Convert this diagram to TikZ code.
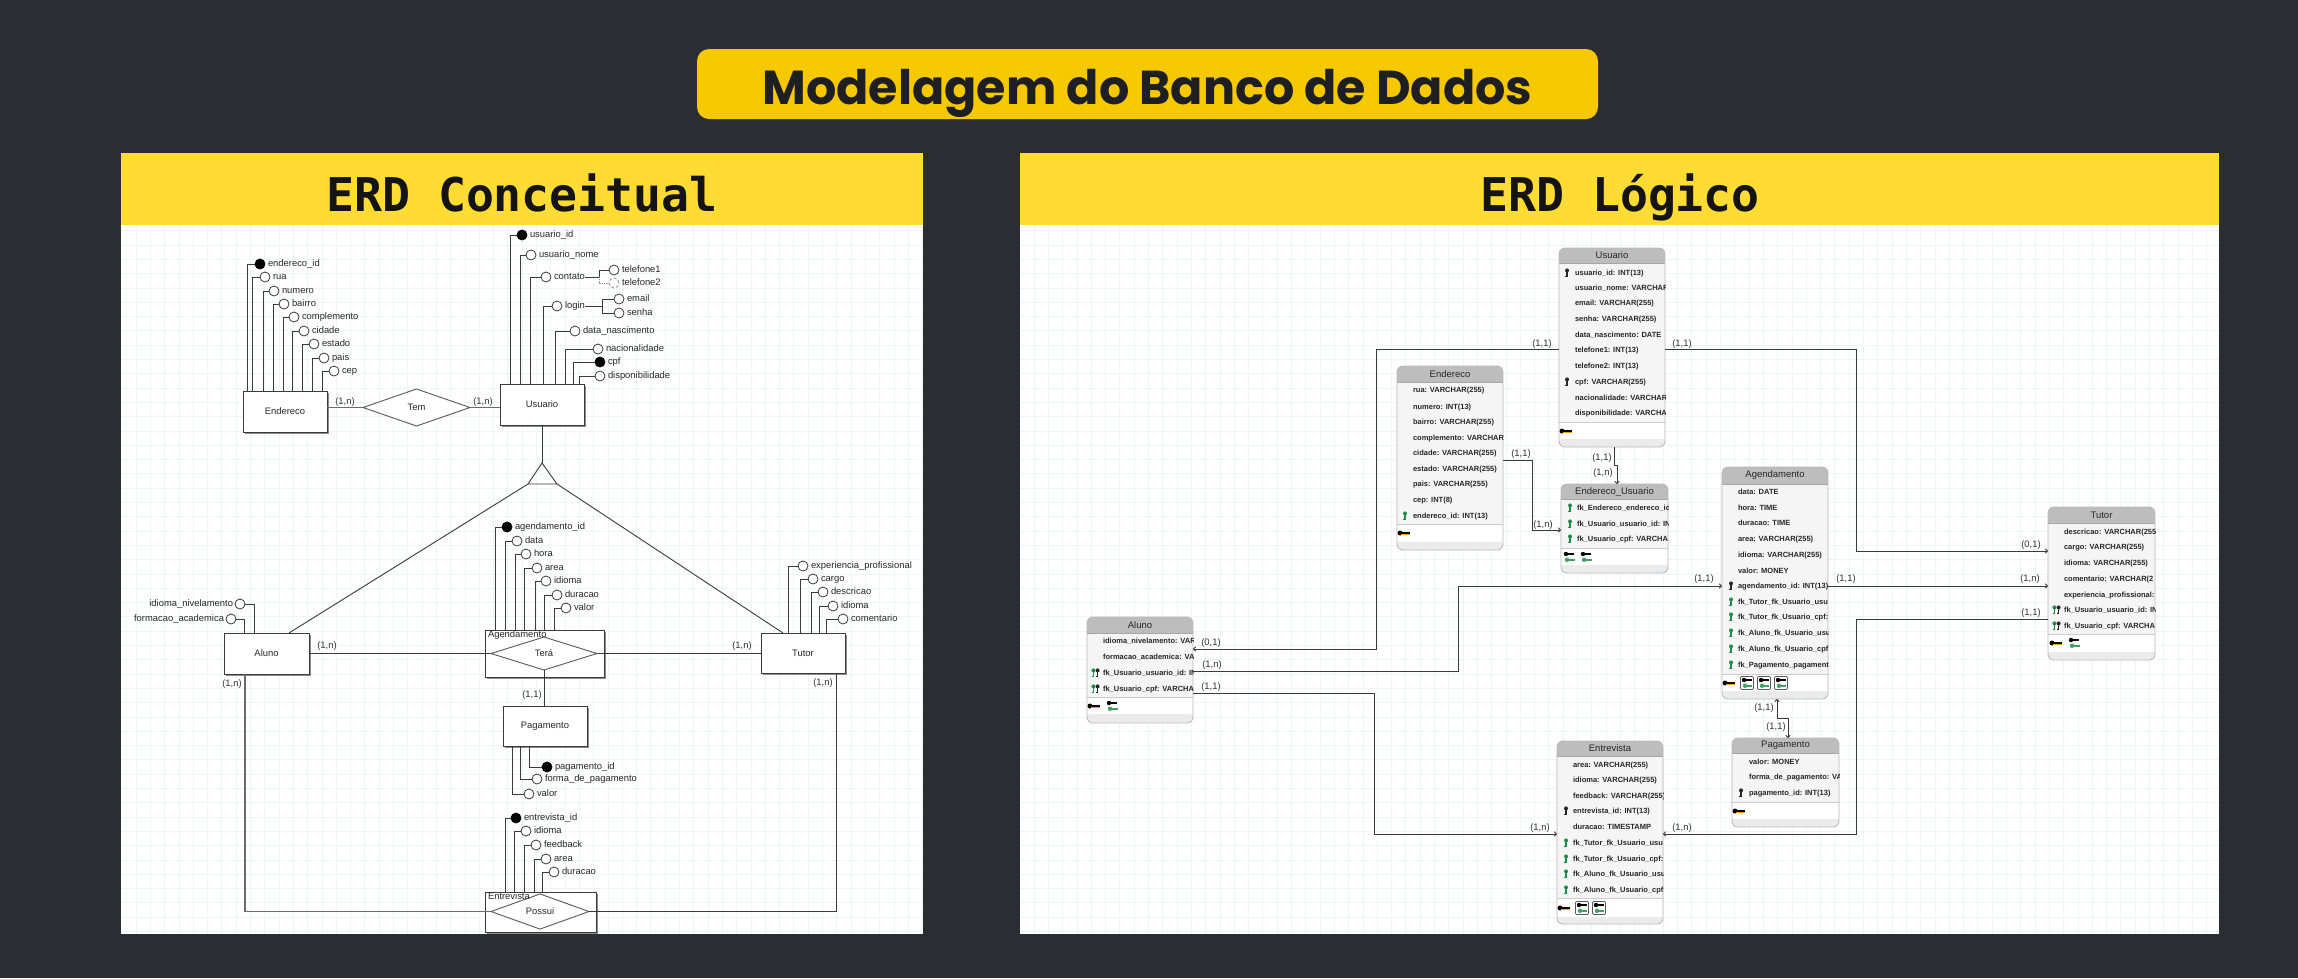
\documentclass[tikz,border=0pt]{standalone}
\usepackage{fontspec}
\setmainfont{Liberation Sans}
\newfontfamily\titlef{Poppins}
\newfontfamily\monof{DejaVu Sans Mono}
\usetikzlibrary{shapes.geometric,arrows.meta}
\definecolor{pagebg}{HTML}{2B2D33}
\definecolor{titleyl}{HTML}{F5C800}
\definecolor{bandyl}{HTML}{FFDC33}
\definecolor{titleink}{HTML}{1E1F23}
\definecolor{gridc}{HTML}{F1F4F6}
\definecolor{lnc}{HTML}{3A3A3A}
\definecolor{thd}{HTML}{BDBDBD}
\definecolor{tbd}{HTML}{F5F5F5}
\definecolor{tsh}{HTML}{EBEBEB}
\definecolor{fkg}{HTML}{1E8E46}
\definecolor{gold}{HTML}{E8A800}
\newcommand\erfont{\fontsize{9.4}{11}\selectfont}
\newcommand\cellfont{\fontsize{7.5}{9}\selectfont\bfseries}
\tikzset{
  ln/.style={draw=lnc,line width=.9pt},
  lnthick/.style={draw=lnc!75,line width=1.3pt},
  conn/.style={draw=lnc,line width=.9pt},
  connarr/.style={conn,-{To[length=3pt,width=5pt]}},
  circ/.style={circle,draw=lnc,fill=white,line width=.8pt,minimum size=10pt,inner sep=0pt,outer sep=0pt},
  circk/.style={circ,fill=black,draw=black},
  circd/.style={circ,draw=lnc!60,densely dashed},
  lab/.style={inner sep=0pt,outer sep=0pt,text height=6.6pt,text depth=2pt,font=\erfont,text=black!85},
  enti/.style={draw=lnc,fill=white,line width=.9pt,inner sep=0pt,outer sep=0pt,font=\erfont,text=black!85},
  diam/.style={diamond,draw=lnc!85,fill=white,line width=.9pt,inner sep=0pt,outer sep=0pt,font=\erfont,text=black!85},
  cardl/.style={inner sep=0pt,outer sep=0pt,font=\erfont,text=black!80},
  tblframe/.style={draw=black!28,line width=.8pt,rounded corners=6pt,inner sep=0pt,outer sep=0pt},
  cellt/.style={anchor=west,inner sep=0pt,outer sep=0pt,font=\cellfont,text=black!85,text height=5.6pt,text depth=1.6pt},
  thdt/.style={inner sep=0pt,outer sep=0pt,font=\fontsize{9.5}{11}\selectfont,text=black!85},
}
% entity rectangle with a hard shadow
\newcommand\entity[6]{%
  \fill[black!45] (#2+2,#3+2) rectangle (#4+2,#5+2);
  \pgfmathsetmacro\ww{#4-#2}\pgfmathsetmacro\hh{#5-#3}%
  \pgfmathsetmacro\cxx{(#2+#4)/2}\pgfmathsetmacro\cyy{(#3+#5)/2}%
  \node[enti,minimum width=\ww pt,minimum height=\hh pt] (#1) at (\cxx,\cyy) {#6};
}
% attribute to the right: [circle style]{id}{entity anchor}{cx}{cy}{line x}{label}
\newcommand\attr[7][circ]{%
  \node[#1] (#2) at (#4,#5) {};
  \node[lab,anchor=west] (#2-l) at ([xshift=3pt]#2.east) {#7};
  \draw[ln] (#2.west) -| (#6,0 |- #3);
}
\newcommand\card[3]{\node[cardl] (c#1) at #2 {#3};}
% logical table
\newcommand\tbl[9]{%
  \pgfmathsetmacro\ww{#4-#2}\pgfmathsetmacro\hh{#5-#3}%
  \pgfmathsetmacro\cxx{(#2+#4)/2}\pgfmathsetmacro\cyy{(#3+#5)/2}\pgfmathsetmacro\hyy{(#3+#6)/2}%
  \begin{scope}
    \clip[rounded corners=6pt] (#2,#3) rectangle (#4,#5);
    \fill[tbd] (#2,#3) rectangle (#4,#5);
    \fill[thd] (#2,#3) rectangle (#4,#6);
    \fill[white] (#2,#7) rectangle (#4,#8);
    \fill[tsh] (#2,#8) rectangle (#4,#5);
    \draw[black!20,line width=1pt] (#2,#7) -- (#4,#7);
    \draw[black!35,line width=.8pt] (#2,#6) -- (#4,#6);
  \end{scope}
  \node[tblframe,minimum width=\ww pt,minimum height=\hh pt] (#1) at (\cxx,\cyy) {};
  \node[thdt] (#1-title) at (\cxx,\hyy) {#9};
}
\newcommand\tblrows[3]{%
  \begin{scope}
    \clip[rounded corners=6pt] (#1.south west) rectangle (#1.north east);
    \foreach \yy/\ttx in {#3} {\node[cellt] at (#2,\yy) {\ttx};}
  \end{scope}
}
% key icons
\newcommand\vkey[3]{\fill[#3] (#1,#2-2.6) circle (2pt); \fill[#3] (#1-.8,#2-2.6) rectangle (#1+.8,#2+4);\fill[#3] (#1-1.6,#2+2.6) rectangle (#1+.8,#2+3.4);}
\newcommand\vkk[2]{\vkey{#1-2.6}{#2}{fkg}\vkey{#1+1.6}{#2}{black!85}}
\newcommand\fkey[2]{\fill[black] (#1-4,#2) circle (2.5pt);\fill[black] (#1-4,#2-.9) rectangle (#1+6,#2+.7);\fill[gold] (#1-3,#2+.7) rectangle (#1+6,#2+1.6);}
\newcommand\fcomb[2]{%
  \fill[white] (#1-7,#2-7) rectangle (#1+8,#2+8);
  \fill[black] (#1-3,#2-3) circle (2.2pt);\fill[black] (#1-3,#2-3.7) rectangle (#1+5,#2-2.3);
  \fill[fkg!85] (#1-2,#2+2.8) circle (2.2pt);\fill[fkg!85] (#1-2,#2+2.1) rectangle (#1+6,#2+3.5);}
\newcommand\fboxk[2]{%
  \fill[white] (#1-6.5,#2-6.5) rectangle (#1+6.5,#2+6.5);
  \fill[black] (#1-3,#2-3) circle (2.2pt);\fill[black] (#1-3,#2-3.7) rectangle (#1+5,#2-2.3);
  \fill[fkg!85] (#1-2,#2+2.8) circle (2.2pt);\fill[fkg!85] (#1-2,#2+2.1) rectangle (#1+5,#2+3.5);
  \draw[black!65,line width=.7pt,rounded corners=1.2pt] (#1-6.5,#2-6.5) rectangle (#1+6.5,#2+6.5);}
\begin{document}
\begin{tikzpicture}[x=1pt,y=-1pt]
\useasboundingbox (0,0) rectangle (2298,978);
\fill[pagebg] (0,0) rectangle (2298,978);
% title
\node[fill=titleyl,rounded corners=12pt,minimum width=901pt,minimum height=70pt,inner sep=0pt,outer sep=0pt] (mainBox) at (1147.5,84) {};
\node[anchor=base,inner sep=0pt,outer sep=0pt,text=titleink,font=\titlef\bfseries\fontsize{47.6}{54}\selectfont] (mainTitle) at (1147.5,104) {Modelagem do Banco de Dados};
% panels
\fill[white] (121,153) rectangle (923,934);
\fill[white] (1020,153) rectangle (2219,934);
\begin{scope}
  \clip (121,225) rectangle (923,934);
  \foreach \x in {136,150.3,...,923} \draw[gridc,line width=.8pt] (\x,225) -- (\x,934);
  \foreach \y in {230.7,245,...,934} \draw[gridc,line width=.8pt] (121,\y) -- (923,\y);
\end{scope}
\begin{scope}
  \clip (1020,225) rectangle (2219,934);
  \foreach \x in {1034,1048.3,...,2219} \draw[gridc,line width=.8pt] (\x,225) -- (\x,934);
  \foreach \y in {230.7,245,...,934} \draw[gridc,line width=.8pt] (1020,\y) -- (2219,\y);
\end{scope}
\fill[bandyl] (121,153) rectangle (923,225);
\fill[bandyl] (1020,153) rectangle (2219,225);
\node[anchor=base,inner sep=0pt,font=\monof\bfseries\fontsize{46.5}{52}\selectfont,text=black!92] (hConc) at (522,211) {ERD Conceitual};
\node[anchor=base,inner sep=0pt,font=\monof\bfseries\fontsize{46.5}{52}\selectfont,text=black!92] (hLog) at (1620,211) {ERD Lógico};

% ---------- conceptual ----------
\entity{eEnd}{243}{391}{327}{432}{Endereco}
\entity{eUsu}{500}{384}{584}{425}{Usuario}
\entity{eAlu}{224}{633}{309}{674}{Aluno}
\entity{eTut}{761}{633}{845}{673}{Tutor}
\entity{eAge}{485}{630}{604}{677}{}
\entity{ePag}{503}{706}{587}{746}{Pagamento}
\entity{eEnt}{485}{892}{596}{932}{}

\node[diam,minimum width=107pt,minimum height=37pt] (dTem) at (416.5,407.5) {Tem};
\node[diam,minimum width=106pt,minimum height=33pt] (dTer) at (544,653.5) {Terá};
\node[diam,minimum width=98pt,minimum height=29pt] (dPos) at (540,911.5) {Possui};
\node[lab,anchor=west] (lAge) at (488,635) {Agendamento};
\node[lab,anchor=west] (lEnt) at (488,897) {Entrevista};

\coordinate (triA) at (542,463);
\coordinate (triL) at (528,484);
\coordinate (triR) at (557,484);
\draw[ln] (triA) -- (triL) -- (triR) -- cycle;
\draw[ln] (eUsu.south -| triA) -- (triA);
\draw[ln] (triL) -- (289,0 |- eAlu.north);
\draw[ln] (triR) -- (783,0 |- eTut.north);

\draw[lnthick,draw=lnc!75] (eEnd.east |- dTem.west) -- (dTem.west);
\draw[lnthick,draw=lnc!75] (dTem.east) -- (eUsu.west |- dTem.east);
\draw[ln] (eAlu.east |- dTer.west) -- (dTer.west);
\draw[ln] (dTer.east) -- (eTut.west |- dTer.east);
\draw[ln] (dTer.south) -- (ePag.north -| dTer.south);
\draw[lnthick] (245,0 |- eAlu.south) |- (dPos.west);
\draw[ln] (836,0 |- eTut.south) |- (dPos.east);

\card{a}{(345,402)}{(1,n)}
\card{b}{(483,402)}{(1,n)}
\card{c}{(327,646)}{(1,n)}
\card{d}{(232,684)}{(1,n)}
\card{e}{(742,646)}{(1,n)}
\card{f}{(532,695)}{(1,1)}
\card{g}{(823,683)}{(1,n)}

\attr[circk]{aE1}{eEnd.north}{260}{264}{247.5}{endereco\_id}
\attr{aE2}{eEnd.north}{265}{277}{252}{rua}
\attr{aE3}{eEnd.north}{274}{291}{263}{numero}
\attr{aE4}{eEnd.north}{284}{304}{273}{bairro}
\attr{aE5}{eEnd.north}{294}{317}{283}{complemento}
\attr{aE6}{eEnd.north}{304}{331}{292}{cidade}
\attr{aE7}{eEnd.north}{314}{344}{302}{estado}
\attr{aE8}{eEnd.north}{324}{358}{312}{pais}
\attr{aE9}{eEnd.north}{334}{371}{322}{cep}

\attr[circk]{aU1}{eUsu.north}{522}{235}{510}{usuario\_id}
\attr{aU2}{eUsu.north}{531}{255}{520}{usuario\_nome}
\attr{aU3}{eUsu.north}{546}{277}{530}{contato}
\attr{aU4}{eUsu.north}{557}{306}{543}{login}
\attr{aU5}{eUsu.north}{575}{331}{555}{data\_nascimento}
\attr{aU6}{eUsu.north}{598}{349}{565}{nacionalidade}
\attr[circk]{aU7}{eUsu.north}{600}{362}{573}{cpf}
\attr{aU8}{eUsu.north}{600}{376}{579}{disponibilidade}
\node[circ] (aT1) at (614,270) {};
\node[lab,anchor=west] (aT1-l) at ([xshift=3pt]aT1.east) {telefone1};
\node[circd] (aT2) at (614,283) {};
\node[lab,anchor=west] (aT2-l) at ([xshift=3pt]aT2.east) {telefone2};
\coordinate (jCon) at (599,277);
\draw[ln] (aU3-l.east) -- (jCon) |- (aT1.west);
\draw[draw=lnc!50,line width=.8pt,densely dotted] (jCon) |- (aT2.west);
\node[circ] (aL1) at (619,299) {};
\node[lab,anchor=west] (aL1-l) at ([xshift=3pt]aL1.east) {email};
\node[circ] (aL2) at (619,313) {};
\node[lab,anchor=west] (aL2-l) at ([xshift=3pt]aL2.east) {senha};
\coordinate (jLog) at (602,306);
\draw[ln] (aU4-l.east) -- (jLog) |- (aL1.west);
\draw[ln] (jLog) |- (aL2.west);

\node[circ] (aA1) at (240,604) {};
\node[lab,anchor=east] (aA1-l) at ([xshift=-2pt]aA1.west) {idioma\_nivelamento};
\node[circ] (aA2) at (231,619) {};
\node[lab,anchor=east] (aA2-l) at ([xshift=-2pt]aA2.west) {formacao\_academica};
\draw[ln] (aA1.east) -| (254,0 |- eAlu.north);
\draw[ln] (aA2.east) -| (244,0 |- eAlu.north);

\attr[circk]{aG1}{eAge.north}{507}{527}{495}{agendamento\_id}
\attr{aG2}{eAge.north}{517}{541}{505}{data}
\attr{aG3}{eAge.north}{526}{554}{515}{hora}
\attr{aG4}{eAge.north}{537}{568}{524}{area}
\attr{aG5}{eAge.north}{546}{581}{535}{idioma}
\attr{aG6}{eAge.north}{557}{595}{544}{duracao}
\attr{aG7}{eAge.north}{566}{608}{554}{valor}

\attr{aR1}{eTut.north}{803}{566}{788}{experiencia\_profissional}
\attr{aR2}{eTut.north}{813}{579}{800}{cargo}
\attr{aR3}{eTut.north}{823}{592}{811}{descricao}
\attr{aR4}{eTut.north}{833}{606}{819}{idioma}
\attr{aR5}{eTut.north}{843}{619}{826}{comentario}

\attr[circk]{aP1}{ePag.south}{547}{767}{529}{pagamento\_id}
\attr{aP2}{ePag.south}{537}{779}{520}{forma\_de\_pagamento}
\attr{aP3}{ePag.south}{529}{794}{512}{valor}

\attr[circk]{aV1}{eEnt.north}{516}{818}{505}{entrevista\_id}
\attr{aV2}{eEnt.north}{526}{831}{514}{idioma}
\attr{aV3}{eEnt.north}{536}{845}{524}{feedback}
\attr{aV4}{eEnt.north}{546}{859}{534}{area}
\attr{aV5}{eEnt.north}{554}{872}{542}{duracao}

% ---------- logical ----------
\tbl{tUsu}{1559}{248}{1665}{447}{263}{422}{439}{Usuario}
\tblrows{tUsu}{1575}{273/usuario\_id: INT(13),288/usuario\_nome: VARCHAR,303/email: VARCHAR(255),319/senha: VARCHAR(255),335/data\_nascimento: DATE,350/telefone1: INT(13),366/telefone2: INT(13),382/cpf: VARCHAR(255),398/nacionalidade: VARCHAR,413/disponibilidade: VARCHA}
\vkey{1567}{273}{black!85}\vkey{1567}{382}{black!85}\fkey{1566}{431}

\tbl{tEnd}{1397}{366}{1503}{550}{382}{524}{542}{Endereco}
\tblrows{tEnd}{1413}{390/rua: VARCHAR(255),407/numero: INT(13),422/bairro: VARCHAR(255),438/complemento: VARCHAR,453/cidade: VARCHAR(255),469/estado: VARCHAR(255),484/pais: VARCHAR(255),500/cep: INT(8),516/endereco\_id: INT(13)}
\vkey{1405}{516}{fkg}\fkey{1404}{533}

\tbl{tEU}{1561}{484}{1668}{573}{499}{548}{565}{Endereco\_Usuario}
\tblrows{tEU}{1577}{508/fk\_Endereco\_endereco\_id,524/fk\_Usuario\_usuario\_id: IN,539/fk\_Usuario\_cpf: VARCHA}
\vkey{1570}{508}{fkg}\vkey{1570}{524}{fkg}\vkey{1570}{539}{fkg}\fcomb{1569}{557}\fcomb{1586}{557}

\tbl{tAlu}{1087}{617}{1193}{723}{633}{697}{714}{Aluno}
\tblrows{tAlu}{1103}{641/idioma\_nivelamento: VAR,657/formacao\_academica: VAF,673/fk\_Usuario\_usuario\_id: IN,689/fk\_Usuario\_cpf: VARCHA}
\vkk{1096}{673}\vkk{1096}{689}\fkey{1094}{706}\fcomb{1112}{706}

\tbl{tAge}{1722}{467}{1828}{699}{484}{674}{691}{Agendamento}
\tblrows{tAge}{1738}{492/data: DATE,508/hora: TIME,523/duracao: TIME,539/area: VARCHAR(255),555/idioma: VARCHAR(255),571/valor: MONEY,586/agendamento\_id: INT(13),602/fk\_Tutor\_fk\_Usuario\_usu,617/fk\_Tutor\_fk\_Usuario\_cpf:,633/fk\_Aluno\_fk\_Usuario\_usu,649/fk\_Aluno\_fk\_Usuario\_cpf,665/fk\_Pagamento\_pagament}
\vkey{1731}{586}{black!85}\foreach \yk in {602,617,633,649,665}{\vkey{1731}{\yk}{fkg}}
\fkey{1729}{683}\fboxk{1747}{683}\fboxk{1764}{683}\fboxk{1781}{683}

\tbl{tTut}{2048}{507}{2155}{660}{523}{634}{652}{Tutor}
\tblrows{tTut}{2064}{532/descricao: VARCHAR(255,547/cargo: VARCHAR(255),563/idioma: VARCHAR(255),579/comentario: VARCHAR(2,595/experiencia\_profissional:,610/fk\_Usuario\_usuario\_id: IN,626/fk\_Usuario\_cpf: VARCHA}
\vkk{2057}{610}\vkk{2057}{626}\fkey{2056}{643}\fcomb{2074}{643}

\tbl{tPag}{1732}{738}{1839}{827}{753}{802}{819}{Pagamento}
\tblrows{tPag}{1749}{762/valor: MONEY,777/forma\_de\_pagamento: VA,793/pagamento\_id: INT(13)}
\vkey{1741}{793}{black!85}\fkey{1739}{811}

\tbl{tEnv}{1557}{741}{1663}{924}{756}{898}{917}{Entrevista}
\tblrows{tEnv}{1573}{765/area: VARCHAR(255),780/idioma: VARCHAR(255),796/feedback: VARCHAR(255),811/entrevista\_id: INT(13),827/duracao: TIMESTAMP,843/fk\_Tutor\_fk\_Usuario\_usu,859/fk\_Tutor\_fk\_Usuario\_cpf:,874/fk\_Aluno\_fk\_Usuario\_usu,890/fk\_Aluno\_fk\_Usuario\_cpf:}
\vkey{1566}{811}{black!85}\foreach \yk in {843,859,874,890}{\vkey{1566}{\yk}{fkg}}
\fkey{1564}{908}\fboxk{1582}{908}\fboxk{1599}{908}

% connectors
\draw[connarr] (tUsu.west |- 0,349) -- (1376,349) |- (tAlu.east |- 0,649);
\draw[connarr] (tUsu.east |- 0,349) -- (1856,349) |- (tTut.west |- 0,551);
\draw[connarr] (1614,0 |- tUsu.south) -- (1614,465) -- (1617,465) -- (1617,0 |- tEU.north);
\draw[connarr] (tEnd.east |- 0,460) -- (1532,460) |- (tEU.west |- 0,530);
\draw[connarr] (tAlu.east |- 0,671) -- (1458,671) |- (tAge.west |- 0,586);
\draw[connarr] (tAlu.east |- 0,693) -- (1374,693) |- (tEnv.west |- 0,834);
\draw[connarr] (tAge.east |- 0,586) -- (tTut.west |- 0,586);
\draw[connarr] (tTut.west |- 0,619) -- (1856,619) |- (tEnv.east |- 0,834);
\draw[conn,{To[length=3pt,width=5pt]}-{To[length=3pt,width=5pt]}] (1777,0 |- tAge.south) -- (1777,718) -- (1788,718) -- (1788,0 |- tPag.north);

\card{m}{(1542,344)}{(1,1)}
\card{n}{(1682,344)}{(1,1)}
\card{o}{(1602,458)}{(1,1)}
\card{p}{(1603,473)}{(1,n)}
\card{q}{(1521,454)}{(1,1)}
\card{r}{(1543,525)}{(1,n)}
\card{s}{(1211,643)}{(0,1)}
\card{t}{(1212,665)}{(1,n)}
\card{u}{(1211,687)}{(1,1)}
\card{v}{(1704,579)}{(1,1)}
\card{w}{(1846,579)}{(1,1)}
\card{x}{(2031,545)}{(0,1)}
\card{y}{(2030,579)}{(1,n)}
\card{z}{(2031,613)}{(1,1)}
\card{aa}{(1764,708)}{(1,1)}
\card{ab}{(1776,727)}{(1,1)}
\card{ac}{(1540,828)}{(1,n)}
\card{ad}{(1682,828)}{(1,n)}
\end{tikzpicture}
\end{document}
